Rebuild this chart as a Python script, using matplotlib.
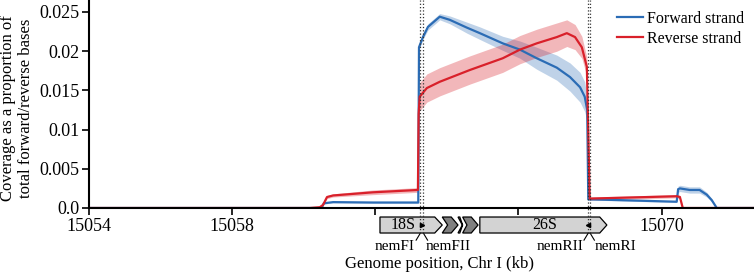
import matplotlib
matplotlib.use('Agg')
import matplotlib.pyplot as plt
from matplotlib.patches import Polygon
import numpy as np

plt.rcParams['font.family'] = ['Liberation Serif', 'DejaVu Serif']
plt.rcParams['font.size'] = 12

# forward strand coverage (kb, mean, CI half width)
fwd_kb = [15054.0, 15060.50, 15060.56, 15060.82, 15061.93, 15063.20, 15063.22, 15063.33,
          15063.47, 15063.80, 15064.08, 15064.56, 15064.92, 15065.56, 15066.04, 15066.51,
          15067.07, 15067.44, 15067.72, 15067.85, 15067.92, 15067.95, 15068.08, 15070.42,
          15070.46, 15070.51, 15070.78, 15071.06, 15071.26, 15071.40, 15071.54, 15072.6]
fwd_mean = [0, 0, 0.0006, 0.00075, 0.0007, 0.0007, 0.0205, 0.0218,
            0.0231, 0.0244, 0.0240, 0.0230, 0.0223, 0.0210, 0.0202, 0.0191,
            0.0179, 0.0167, 0.0154, 0.0142, 0.0125, 0.0011, 0.0011, 0.0008,
            0.0024, 0.0025, 0.0023, 0.0023, 0.0017, 0.0010, 0.0, 0.0]
fwd_err = [0, 0, 0.0001, 0.0001, 0.0001, 0.0001, 0.0003, 0.0003,
           0.0004, 0.0004, 0.0005, 0.0007, 0.0008, 0.0009, 0.0011, 0.0014,
           0.0016, 0.0018, 0.0019, 0.0019, 0.0015, 0.0001, 0.0001, 0.0001,
           0.0004, 0.0004, 0.0004, 0.0004, 0.0003, 0.0002, 0, 0]

# reverse strand coverage
rev_kb = [15054.0, 15060.17, 15060.45, 15060.54, 15060.65, 15060.82, 15061.93, 15063.19,
          15063.21, 15063.24, 15063.44, 15063.80, 15064.64, 15065.56, 15066.04, 15066.51,
          15067.07, 15067.35, 15067.58, 15067.77, 15067.91, 15067.95, 15067.99, 15070.42,
          15070.51, 15070.59, 15072.6]
rev_mean = [0, 0, 0.0001, 0.0004, 0.0014, 0.0016, 0.0020, 0.0023,
            0.0120, 0.0142, 0.0153, 0.0161, 0.0176, 0.0191, 0.0202, 0.0210,
            0.0218, 0.0223, 0.0218, 0.0205, 0.0180, 0.0096, 0.0012, 0.0015,
            0.0014, 0.0, 0.0]
rev_err = [0, 0, 0.0001, 0.0001, 0.0002, 0.0002, 0.0003, 0.0003,
           0.0012, 0.0018, 0.0018, 0.0018, 0.0018, 0.0018, 0.0018, 0.0018,
           0.0018, 0.0017, 0.0016, 0.0014, 0.0012, 0.0006, 0.0002, 0.0002,
           0.0002, 0, 0]

# primers (vertical dotted lines) and labels
primer_kb = [15063.26, 15063.34, 15067.95, 15068.0]
primer_names = ['nemFI', 'nemFII', 'nemRII', 'nemRI']
primer_label_kb = [15062.55, 15064.03, 15067.16, 15068.71]

blue = '#2b6cb5'
red = '#d9202a'

fig = plt.figure(figsize=(7.54, 2.72), dpi=100)
ax = fig.add_axes([89 / 754, 64 / 272, 665 / 754, 208 / 272])

fm, fe = np.array(fwd_mean), np.array(fwd_err)
rm, re = np.array(rev_mean), np.array(rev_err)
ax.fill_between(fwd_kb, fm - fe, fm + fe, color=blue, alpha=0.3, lw=0)
ax.fill_between(rev_kb, rm - re, rm + re, color=red, alpha=0.32, lw=0)
ax.plot(fwd_kb, fwd_mean, color=blue, lw=1.6, label='Forward strand')
ax.plot(rev_kb, rev_mean, color=red, lw=1.6, label='Reverse strand')

ax.set_xlim(15054, 15072.58)
ax.set_ylim(0, 0.02653)
ax.set_xticks([15054, 15058, 15062, 15066, 15070])
ax.set_xticklabels(['15054', '15058', '', '', '15070'], fontsize=13)
ax.set_yticks([0, 0.005, 0.01, 0.015, 0.02, 0.025])
ax.set_yticklabels(['0.0', '0.005', '0.01', '0.015', '0.02', '0.025'], fontsize=13)
ax.tick_params(length=5, width=1.2, pad=2)
for s in ['top', 'right']:
    ax.spines[s].set_visible(False)
ax.spines['left'].set_linewidth(1.5)
ax.spines['bottom'].set_linewidth(1.5)

# dotted primer lines, running below the axis
for x in primer_kb:
    ax.plot([x, x], [-0.0032, 0.02653], ls=':', color='#333333', lw=0.9, clip_on=False, zorder=5)

# gene annotation below axis
y0, y1 = -0.00115, -0.00319
ym = (y0 + y1) / 2

def arrow(x_start, x_body, x_tip, fc, notch=0.0):
    pts = [(x_start, y0), (x_body, y0), (x_tip, ym), (x_body, y1), (x_start, y1)]
    if notch:
        pts.append((x_start + notch, ym))
    ax.add_patch(Polygon(pts, closed=True, fc=fc, ec='black', lw=0.9, clip_on=False, zorder=4))

arrow(15062.13, 15063.66, 15063.87, '#d3d3d3')
arrow(15063.87, 15064.12, 15064.31, '#808080', notch=0.15)
arrow(15064.31, 15064.36, 15064.44, '#d9d9d9', notch=0.12)
arrow(15064.44, 15064.68, 15064.87, '#808080', notch=0.12)
arrow(15064.92, 15068.27, 15068.47, '#d3d3d3')
ax.text(15062.77, ym, '18S', ha='center', va='center', fontsize=11.5, zorder=6)
ax.text(15066.74, ym, '26S', ha='center', va='center', fontsize=11.5, zorder=6)

# primer markers
ax.plot([15063.31], [ym], marker='>', ms=3, color='black', clip_on=False, zorder=6)
ax.plot([15067.94], [ym], marker='<', ms=3, color='black', clip_on=False, zorder=6)
for xa, xb in [(15063.26, 15063.34), (15067.95, 15068.0)]:
    ax.plot([xa, xa - 0.12], [y1, -0.0041], color='black', lw=0.8, clip_on=False)
    ax.plot([xb, xb + 0.12], [y1, -0.0041], color='black', lw=0.8, clip_on=False)

for name, x in zip(primer_names, primer_label_kb):
    ax.text(x, -0.00497, name, ha='center', va='center', fontsize=11)

ax.text(15063.78, -0.00714, 'Genome position, Chr I (kb)', ha='center', va='center', fontsize=12)
fig.text(17 / 754, 1 - 108 / 272, 'Coverage as a proportion of\ntotal forward/reverse bases',
         rotation=90, ha='center', va='center', fontsize=12, linespacing=1.2)

ax.legend(loc='upper right', bbox_to_anchor=(1.0, 0.995), frameon=False, fontsize=11.5,
          handlelength=1.6, handletextpad=0.3, labelspacing=0.25, borderaxespad=0.2)

fig.savefig('out.png', dpi=100)
